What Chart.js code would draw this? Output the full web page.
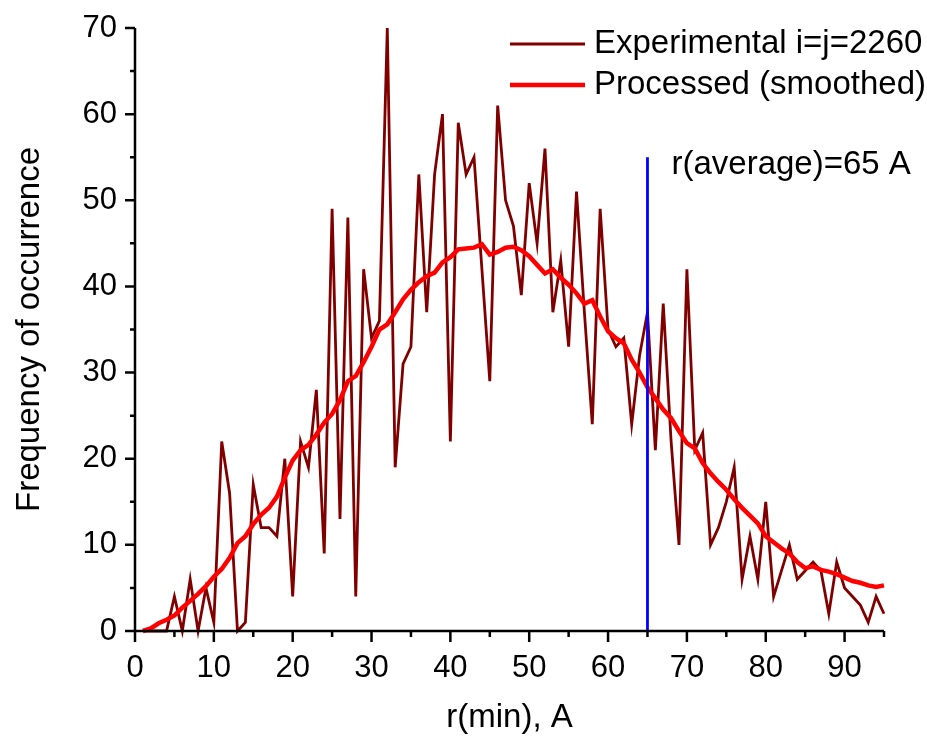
<!DOCTYPE html>
<html>
<head>
<meta charset="utf-8">
<script src="https://cdn.jsdelivr.net/npm/chart.js@4"></script>
<style>
  html, body { margin: 0; padding: 0; background: #fff; }
</style>
</head>
<body>
<canvas id="cv1" width="927" height="738"></canvas>
<script>
// data
const rMin = [1,2,3,4,5,6,7,8,9,10,11,12,13,14,15,16,17,18,19,20,
  21,22,23,24,25,26,27,28,29,30,31,32,33,34,35,36,37,38,39,40,
  41,42,43,44,45,46,47,48,49,50,51,52,53,54,55,56,57,58,59,60,
  61,62,63,64,65,66,67,68,69,70,71,72,73,74,75,76,77,78,79,80,
  81,82,83,84,85,86,87,88,89,90,91,92,93,94,95];

const experimental = [0,0,0,0,4,0,6,0,5,1,22,16,0,1,17,12,12,11,20,4,
  22,19,28,9,49,13,48,4,42,34,36,70,19,31,33,53,37,53,60,22,
  59,53,55,42,29,61,50,47,39,52,45,56,37,43,33,51,37,24,49,35,
  33,34,24,32,37,21,38,22,10,42,21,23,10,12,15,19,6,11,6,15,
  4,7,10,6,7,8,7,2,8,5,4,3,1,4,2];

const smoothed = [0,0.3,0.9,1.3,1.8,2.7,3.5,4.3,5.2,6.3,7.2,8.5,10.2,11,12.4,13.5,14.3,15.6,17.8,19.8,
  21,21.6,22.8,24.2,25.2,26.8,29,29.6,31.2,33,35,35.6,37,38.5,39.6,40.5,41.2,41.6,42.8,43.4,
  44.3,44.4,44.5,44.9,43.7,44,44.5,44.6,44.2,43.5,42.5,41.5,42,41,40.2,39.2,38,38.4,36.5,34.8,
  34,33.4,31.5,30,28.3,27,25.7,24.7,23.2,21.8,21.2,19.5,18.3,17.3,16.4,15.3,14.3,13.4,12.5,11,
  10.3,9.6,9,8,7.3,7.5,7.1,6.9,6.6,6.2,5.8,5.6,5.3,5.1,5.3];

const xTicks = [0,10,20,30,40,50,60,70,80,90];
const xMinor = [5,15,25,35,45,55,65,75,85,95];
const yTicks = [0,10,20,30,40,50,60,70];
const yMinor = [5,15,25,35,45,55,65];

const rAverage = 65;
const rAverageTop = 55;
const rAverageLabel = 'r(average)=65 A';
const seriesNames = ['Experimental i=j=2260', 'Processed (smoothed)'];

const FONT = "'Liberation Sans', Arial, sans-serif";
const DARKRED = '#800000';

function pts(xs, ys) {
  return xs.map((x, i) => ({x: x, y: ys[i]}));
}

// axis lines, tick marks, legend and the r(average) label
const decor = {
  id: 'decor',
  afterDraw(chart) {
    const ctx = chart.ctx;
    const xs = chart.scales.x, ys = chart.scales.y;
    const y0 = ys.getPixelForValue(0);
    const x0 = xs.getPixelForValue(0);
    ctx.save();
    ctx.strokeStyle = '#000';
    ctx.lineWidth = 2.5;
    ctx.beginPath();
    ctx.moveTo(x0, y0);
    ctx.lineTo(xs.getPixelForValue(95), y0);
    ctx.moveTo(x0, y0);
    ctx.lineTo(x0, ys.getPixelForValue(70));
    xTicks.forEach(v => { const p = xs.getPixelForValue(v); ctx.moveTo(p, y0); ctx.lineTo(p, y0 + 11); });
    xMinor.forEach(v => { const p = xs.getPixelForValue(v); ctx.moveTo(p, y0); ctx.lineTo(p, y0 + 6); });
    yTicks.forEach(v => { const p = ys.getPixelForValue(v); ctx.moveTo(x0, p); ctx.lineTo(x0 - 10, p); });
    yMinor.forEach(v => { const p = ys.getPixelForValue(v); ctx.moveTo(x0, p); ctx.lineTo(x0 - 5, p); });
    ctx.stroke();

    // legend
    ctx.lineCap = 'butt';
    ctx.strokeStyle = DARKRED; ctx.lineWidth = 2.8;
    ctx.beginPath(); ctx.moveTo(510, 44); ctx.lineTo(585, 44); ctx.stroke();
    ctx.strokeStyle = '#ff0000'; ctx.lineWidth = 4.5;
    ctx.beginPath(); ctx.moveTo(510, 85); ctx.lineTo(585, 85); ctx.stroke();
    ctx.fillStyle = '#000';
    ctx.font = '33px ' + FONT;
    ctx.textBaseline = 'middle';
    ctx.textAlign = 'left';
    ctx.fillText(seriesNames[0], 594, 44);
    ctx.fillText(seriesNames[1], 594, 85);

    // label by the blue line
    ctx.fillText(rAverageLabel, xs.getPixelForValue(rAverage) + 24, ys.getPixelForValue(rAverageTop) + 8);
    ctx.restore();
  }
};

const ctx = document.getElementById('cv1').getContext('2d');
new Chart(ctx, {
  type: 'line',
  data: {
    datasets: [
      {
        label: 'r(average)',
        data: [{x: rAverage, y: 0}, {x: rAverage, y: rAverageTop}],
        borderColor: '#0000ff',
        borderWidth: 2.8,
        pointRadius: 0,
        order: 0
      },
      {
        label: seriesNames[1],
        data: pts(rMin, smoothed),
        borderColor: '#ff0000',
        borderWidth: 4.5,
        pointRadius: 0,
        order: 1,
        clip: false
      },
      {
        label: seriesNames[0],
        data: pts(rMin, experimental),
        borderColor: DARKRED,
        borderWidth: 2.8,
        pointRadius: 0,
        order: 2,
        clip: false
      }
    ]
  },
  plugins: [decor],
  options: {
    responsive: false,
    animation: false,
    layout: { padding: { top: 28, right: 43, bottom: 0, left: 0 } },
    plugins: { legend: { display: false }, tooltip: { enabled: false } },
    scales: {
      x: {
        type: 'linear',
        min: 0, max: 95,
        grid: { display: false },
        border: { display: false },
        afterBuildTicks: s => { s.ticks = xTicks.map(v => ({value: v})); },
        afterFit: s => { s.height = 107; s.paddingLeft = 0; s.paddingRight = 0; },
        ticks: { color: '#000', font: { family: FONT, size: 31 }, padding: 11, maxRotation: 0 },
        title: { display: true, text: 'r(min), A', color: '#000', font: { family: FONT, size: 33 }, padding: { top: 0, bottom: 0 } }
      },
      y: {
        min: 0, max: 70,
        grid: { display: false },
        border: { display: false },
        afterBuildTicks: s => { s.ticks = yTicks.map(v => ({value: v})); },
        afterFit: s => { s.width = 135; s.paddingTop = 0; s.paddingBottom = 0; },
        ticks: { color: '#000', font: { family: FONT, size: 31 }, padding: 10 },
        title: { display: true, text: 'Frequency of occurrence', color: '#000', font: { family: FONT, size: 33 }, padding: { top: 10, bottom: 0 } }
      }
    }
  }
});
</script>
</body>
</html>
